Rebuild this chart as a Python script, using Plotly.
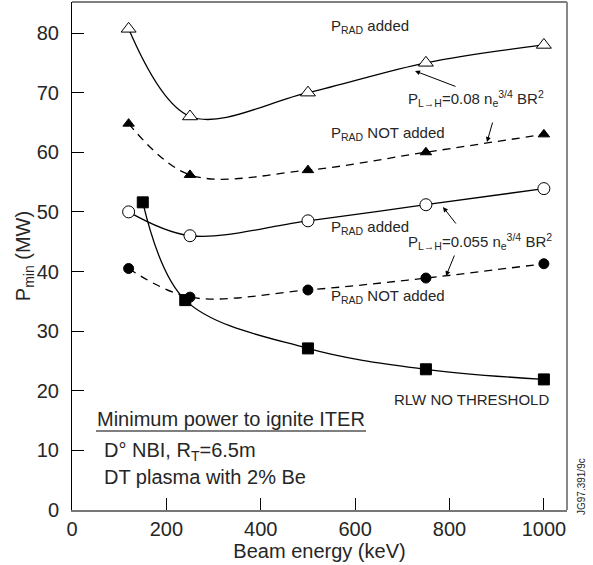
import plotly.graph_objects as go

# Data
x_tri = [120, 250, 500, 750, 1000]
y_tri_open = [80.7, 66.0, 70.0, 75.0, 78.0]      # 0.08, PRAD added
y_tri_filled = [64.8, 56.2, 57.0, 60.0, 63.0]    # 0.08, PRAD NOT added
x_circ = [120, 250, 500, 750, 1000]
y_circ_open = [50.0, 46.0, 48.5, 51.2, 53.9]     # 0.055, PRAD added
y_circ_filled = [40.5, 35.7, 36.9, 38.9, 41.3]   # 0.055, PRAD NOT added
x_sq = [150, 240, 500, 750, 1000]
y_sq = [51.6, 35.2, 27.1, 23.6, 21.9]            # RLW no threshold

FONT = "Liberation Sans, Arial, sans-serif"
TXT = "#262626"

fig = go.Figure()

def add(x, y, symbol, fill, dash, size):
    fig.add_trace(go.Scatter(
        x=x, y=y, mode="lines+markers",
        line=dict(color="black", width=1.3, dash=dash, shape="spline", smoothing=1.0),
        marker=dict(symbol=symbol, size=size, color=fill,
                    line=dict(color="black", width=1)),
        showlegend=False, hoverinfo="skip"))

add(x_tri, y_tri_open, "triangle-up", "white", "solid", 13)
add(x_tri, y_tri_filled, "triangle-up", "black", "8px,6px", 10)
add(x_circ, y_circ_open, "circle", "white", "solid", 12)
add(x_circ, y_circ_filled, "circle", "black", "8px,6px", 10)
add(x_sq, y_sq, "square", "black", "solid", 11)

ann = []
def txt(x, y, text, size=15, xanchor="left", **kw):
    ann.append(dict(x=x, y=y, xref="paper", yref="paper", text=text, showarrow=False,
                    xanchor=xanchor, yanchor="middle",
                    font=dict(family=FONT, size=size, color=TXT), **kw))

# convert pixel to paper coordinates
L, R, T, B = 72, 567, 2, 510
def px(xp): return (xp - L) / (R - L)
def py(yp): return (B - yp) / (B - T)

txt(px(329), py(26), "P<sub>RAD</sub> added")
txt(px(406), py(98), "P<sub>L→H</sub>=0.08 n<sub>e</sub><sup>3/4</sup> BR<sup>2</sup>")
txt(px(329), py(133), "P<sub>RAD</sub> NOT added")
txt(px(329), py(227), "P<sub>RAD</sub> added")
txt(px(406), py(241), "P<sub>L→H</sub>=0.055 n<sub>e</sub><sup>3/4</sup> BR<sup>2</sup>")
txt(px(329), py(296), "P<sub>RAD</sub> NOT added")
txt(px(392), py(399), "RLW NO THRESHOLD", size=15)
txt(px(95), py(419), "Minimum power to ignite ITER", size=20)
txt(px(102), py(451), "D° NBI, R<sub>T</sub>=6.5m", size=20)
txt(px(102), py(477), "DT plasma with 2% Be", size=20)
ann.append(dict(x=px(581), y=py(487), xref="paper", yref="paper", text="JG97.391/9c",
                showarrow=False, textangle=-90, xanchor="center", yanchor="middle",
                font=dict(family=FONT, size=10, color=TXT)))

def arrow(x0, y0, x1, y1):
    ann.append(dict(x=px(x1), y=py(y1), ax=x0 - x1, ay=y0 - y1, xref="paper", yref="paper",
                    axref="pixel", ayref="pixel", text="", showarrow=True,
                    arrowhead=2, arrowsize=1, arrowwidth=1, arrowcolor="black"))

arrow(457, 87, 415, 71)
arrow(493, 121, 487, 142)
arrow(457, 225, 443, 207)
arrow(455, 254, 446, 276)

shapes = [
    dict(type="line", xref="paper", yref="paper", x0=px(96), x1=px(366), y0=py(431), y1=py(431),
         line=dict(color="#555", width=1.5)),
    dict(type="line", xref="paper", yref="paper", x0=0, x1=1, y0=1, y1=1,
         line=dict(color="black", width=1)),
    dict(type="line", xref="paper", yref="paper", x0=1, x1=1, y0=0, y1=1,
         line=dict(color="#888", width=2)),
]

fig.update_layout(
    width=593, height=565,
    margin=dict(l=72, r=26, t=2, b=55),
    plot_bgcolor="white", paper_bgcolor="white",
    font=dict(family=FONT, size=20, color=TXT),
    annotations=ann, shapes=shapes,
    xaxis=dict(range=[0, 1049], tickvals=[0, 200, 400, 600, 800, 1000],
               ticks="inside", ticklen=12, tickcolor="black", showgrid=False,
               zeroline=False, showline=True, linecolor="#777", linewidth=2,
               title=dict(text="Beam energy (keV)", font=dict(size=20), standoff=2),
               tickfont=dict(size=20)),
    yaxis=dict(range=[0, 85.2], tickvals=[0, 10, 20, 30, 40, 50, 60, 70, 80],
               ticks="inside", ticklen=12, tickcolor="black", showgrid=False,
               zeroline=False, showline=True, linecolor="black", linewidth=1,
               ticklabelstandoff=8,
               title=dict(text="P<sub>min</sub> (MW)", font=dict(size=20), standoff=0),
               tickfont=dict(size=20)),
)

fig.write_html("out.html")
